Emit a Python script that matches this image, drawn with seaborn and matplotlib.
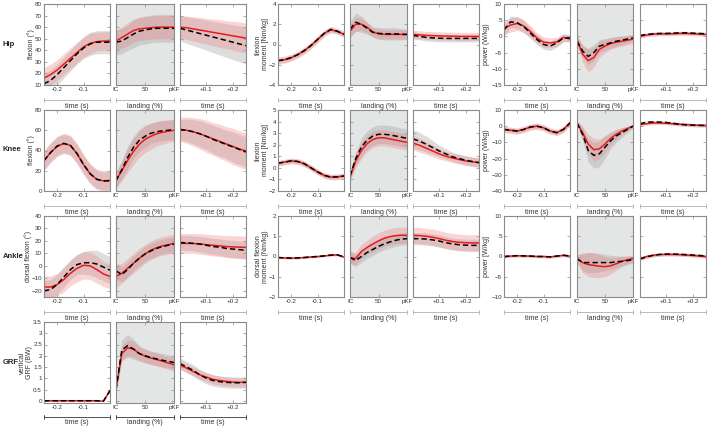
import numpy as np
import pandas as pd
import seaborn as sns
import matplotlib.pyplot as plt

# x grids of the three phases
t_pre = [-0.25, -0.225, -0.2, -0.175, -0.15, -0.125, -0.1, -0.075, -0.05, -0.025, 0.0]
pct_land = [0, 10, 20, 30, 40, 50, 60, 70, 80, 90, 100]
t_post = [0.0, 0.025, 0.05, 0.075, 0.1, 0.125, 0.15, 0.175, 0.2, 0.225, 0.25]

# each series: 11 pre values, 11 landing values, 11 post values
hip_flex_red = [16, 19, 23, 28, 33, 38, 43, 46, 47.5, 48, 48,
                48, 51, 54, 57, 58.5, 59, 59.5, 60, 60, 60, 60,
                60, 59.5, 58.5, 57.5, 56.5, 55.5, 54.5, 53.5, 52.5, 51.5, 50.5]
hip_flex_red_sd = [9, 9, 9, 9, 9, 9, 9, 9, 8, 8, 8,
                   9, 9, 10, 10, 10, 10, 10, 10, 10, 10, 10,
                   10, 10, 10.5, 11, 11, 11.5, 12, 12, 12.5, 13, 13]
hip_flex_blk = [11, 14, 19, 25, 31, 37, 42, 45.5, 47, 47, 47,
                47, 48, 51, 54, 56.5, 57.5, 58.5, 59, 59, 59, 59,
                59, 57.5, 56, 54.5, 53, 51.5, 50, 48.5, 47, 45.5, 44]
hip_flex_blk_sd = [9, 9, 9, 9, 9, 9, 9, 10, 10, 10, 10,
                   11, 11, 11, 12, 12, 12, 12, 12, 12, 12, 12,
                   11, 11.5, 12, 12.5, 13, 13.5, 14, 14.5, 15, 15.5, 16]

hip_mom_red = [-1.6, -1.5, -1.3, -1.0, -0.6, -0.1, 0.5, 1.1, 1.45, 1.3, 1.0,
               1.3, 2.0, 2.0, 1.7, 1.25, 1.05, 1.0, 1.0, 1.0, 1.0, 1.0,
               1.0, 0.95, 0.9, 0.88, 0.85, 0.83, 0.82, 0.8, 0.8, 0.8, 0.8]
hip_mom_red_sd = [0.35, 0.35, 0.35, 0.35, 0.35, 0.35, 0.35, 0.3, 0.3, 0.3, 0.3,
                  0.6, 0.7, 0.6, 0.5, 0.45, 0.45, 0.45, 0.45, 0.45, 0.45, 0.45,
                  0.4, 0.4, 0.4, 0.4, 0.4, 0.4, 0.4, 0.4, 0.4, 0.4, 0.4]
hip_mom_blk = [-1.6, -1.5, -1.3, -1.0, -0.6, -0.1, 0.5, 1.1, 1.5, 1.3, 1.0,
               1.5, 2.2, 2.0, 1.6, 1.2, 1.1, 1.05, 1.05, 1.05, 1.0, 1.0,
               0.9, 0.8, 0.7, 0.65, 0.62, 0.6, 0.6, 0.6, 0.6, 0.6, 0.6]
hip_mom_blk_sd = [0.25, 0.25, 0.25, 0.25, 0.25, 0.25, 0.25, 0.25, 0.25, 0.25, 0.25,
                  0.8, 0.9, 0.8, 0.6, 0.5, 0.6, 0.6, 0.6, 0.6, 0.55, 0.5,
                  0.35, 0.35, 0.35, 0.35, 0.35, 0.35, 0.35, 0.35, 0.35, 0.35, 0.35]

hip_pow_red = [2.5, 3.5, 4.0, 3.2, 1.5, -0.5, -1.8, -2.0, -1.7, -0.3, -0.8,
               -1.0, -5.5, -7.5, -6.5, -4.0, -3.0, -2.2, -1.8, -1.5, -1.2, -0.8,
               0.0, 0.4, 0.7, 0.8, 0.8, 0.8, 0.9, 0.9, 0.8, 0.7, 0.6]
hip_pow_red_sd = [2.0, 2.2, 2.2, 2.0, 1.8, 1.6, 1.6, 1.5, 1.4, 1.2, 1.0,
                  1.5, 2.5, 3.5, 3.0, 2.5, 2.0, 1.8, 1.6, 1.5, 1.4, 1.3,
                  0.6, 0.6, 0.6, 0.6, 0.6, 0.6, 0.6, 0.6, 0.6, 0.6, 0.6]
hip_pow_blk = [2.0, 4.5, 4.2, 3.0, 1.0, -1.0, -2.5, -3.0, -2.0, -0.5, -0.5,
               -1.5, -4.5, -6.2, -5.0, -3.0, -2.5, -2.0, -1.5, -1.2, -0.8, -0.5,
               0.3, 0.6, 0.8, 0.9, 0.9, 1.0, 1.1, 1.1, 1.0, 0.9, 0.8]
hip_pow_blk_sd = [1.8, 1.8, 1.8, 1.8, 1.6, 1.5, 1.5, 1.4, 1.3, 1.2, 1.0,
                  1.5, 2.0, 2.5, 2.5, 2.0, 1.8, 1.6, 1.5, 1.4, 1.2, 1.0,
                  0.5, 0.5, 0.5, 0.5, 0.5, 0.5, 0.5, 0.5, 0.5, 0.5, 0.5]

knee_flex_red = [30, 38, 44, 47, 45, 37, 26, 17, 11.5, 10, 10.5,
                 11, 20, 30, 39, 46, 51, 54, 56.5, 58, 59, 60,
                 61, 60, 58.5, 56.5, 54, 51.5, 49, 46.5, 44, 41.5, 39.5]
knee_flex_red_sd = [10, 10, 10, 10, 10, 10, 10, 10, 10, 10, 10,
                    8, 10, 12, 13, 13, 13, 13, 12, 12, 11, 11,
                    12, 13, 14, 15, 16, 16, 17, 17, 18, 18, 18]
knee_flex_blk = [30, 38, 44.5, 47, 45, 37, 26, 17, 11.5, 10, 10,
                 10, 21, 33, 43, 50, 54, 57, 58.5, 59.5, 60, 61,
                 60.5, 60, 58.5, 56.5, 54, 51, 48.5, 46, 43.5, 41, 38.5]
knee_flex_blk_sd = [9, 9, 9, 9, 9, 9, 9, 9, 9, 9, 9,
                    7, 9, 11, 11, 11, 11, 10, 10, 10, 10, 10,
                    10, 11, 12, 13, 13, 14, 14, 14, 15, 15, 15]

knee_mom_red = [0.4, 0.5, 0.6, 0.55, 0.35, 0.0, -0.35, -0.65, -0.8, -0.78, -0.7,
                -0.8, 0.6, 1.5, 2.1, 2.45, 2.6, 2.6, 2.5, 2.4, 2.3, 2.2,
                2.15, 1.95, 1.7, 1.45, 1.2, 1.0, 0.85, 0.72, 0.6, 0.52, 0.45]
knee_mom_red_sd = [0.25, 0.25, 0.25, 0.25, 0.25, 0.25, 0.25, 0.25, 0.25, 0.25, 0.25,
                   0.3, 0.6, 0.7, 0.7, 0.7, 0.7, 0.7, 0.7, 0.7, 0.7, 0.7,
                   0.6, 0.6, 0.55, 0.5, 0.45, 0.4, 0.4, 0.4, 0.4, 0.4, 0.4]
knee_mom_blk = [0.4, 0.5, 0.6, 0.55, 0.35, 0.0, -0.35, -0.65, -0.8, -0.78, -0.7,
                -0.7, 0.8, 1.8, 2.4, 2.75, 2.9, 2.9, 2.85, 2.75, 2.65, 2.55,
                2.5, 2.3, 2.05, 1.75, 1.45, 1.2, 0.95, 0.8, 0.65, 0.55, 0.45]
knee_mom_blk_sd = [0.2, 0.2, 0.2, 0.2, 0.2, 0.2, 0.2, 0.2, 0.2, 0.2, 0.2,
                   0.3, 0.6, 0.8, 0.8, 0.8, 0.8, 0.8, 0.8, 0.8, 0.8, 0.8,
                   0.8, 0.75, 0.7, 0.6, 0.5, 0.45, 0.4, 0.4, 0.4, 0.4, 0.4]

knee_pow_red = [-2.0, -2.5, -3.0, -2.0, -0.5, 0.0, -1.0, -3.0, -4.0, -2.0, 2.0,
                2.0, -4.0, -11, -14.5, -14, -11, -7.5, -5, -3, -1.5, 0.0,
                1.0, 1.5, 2.0, 2.0, 1.8, 1.5, 1.2, 1.0, 0.8, 0.6, 0.5]
knee_pow_red_sd = [2, 2, 2, 2, 2, 2, 2, 2, 2, 2, 2,
                   1.5, 4, 6, 7, 6, 5, 4, 3, 2, 1.5, 1,
                   1, 1, 1, 1, 1, 1, 1, 1, 1, 1, 1]
knee_pow_blk = [-2.0, -2.5, -3.0, -2.0, -0.5, 0.0, -1.0, -3.0, -4.0, -2.0, 2.0,
                2.0, -5, -15, -18, -17, -13, -9, -6, -4, -2, 0.0,
                1.5, 2.5, 2.6, 2.5, 2.3, 1.8, 1.2, 0.8, 0.6, 0.5, 0.4]
knee_pow_blk_sd = [1.5, 1.5, 1.5, 1.5, 1.5, 1.5, 1.5, 1.5, 1.5, 1.5, 1.5,
                   1.5, 4, 7, 8, 8, 7, 5, 4, 3, 2, 1,
                   1, 1, 1, 1, 1, 1, 1, 1, 1, 1, 1]

ankle_flex_red = [-17, -17, -15, -11, -6, -2, 0.5, 0, -3, -6.5, -8.5,
                  -8.5, -6, -2, 2, 6, 9.5, 12.5, 14.5, 16, 17, 18,
                  18, 18, 18, 17.5, 17, 16.5, 16, 15.5, 15.2, 15, 14.8]
ankle_flex_red_sd = [9, 9, 9, 10, 10, 11, 11, 11, 11, 10, 10,
                     9, 8, 8, 8, 8, 7.5, 7.5, 7.5, 7.5, 7.5, 7.5,
                     8, 8, 8, 8.2, 8.4, 8.5, 8.6, 8.8, 9, 9, 9]
ankle_flex_blk = [-20, -19, -15, -9, -3, 1, 2.5, 2.5, 1.5, -1, -3.5,
                  -4, -7, -3, 2, 6, 9.5, 12, 14, 15.5, 16.5, 17.5,
                  18.5, 18.5, 18, 17.5, 16.5, 15.5, 15, 14, 13.5, 13, 12.5]
ankle_flex_blk_sd = [8, 8, 8, 8, 8, 8, 9, 10, 11, 11, 11,
                     7, 6, 6, 6, 6, 6, 6, 6, 6, 6, 6,
                     6, 6, 6, 6.2, 6.4, 6.5, 6.6, 6.8, 7, 7, 7]

ankle_mom_red = [-0.05, -0.07, -0.08, -0.07, -0.05, -0.02, 0.0, 0.03, 0.07, 0.08, -0.02,
                 -0.05, -0.1, 0.25, 0.45, 0.62, 0.77, 0.9, 0.98, 1.03, 1.05, 1.05,
                 1.05, 1.03, 1.0, 0.95, 0.88, 0.8, 0.74, 0.7, 0.68, 0.67, 0.67]
ankle_mom_red_sd = [0.05, 0.05, 0.05, 0.05, 0.05, 0.05, 0.05, 0.05, 0.05, 0.05, 0.05,
                    0.3, 0.3, 0.35, 0.35, 0.4, 0.4, 0.4, 0.4, 0.4, 0.4, 0.4,
                    0.4, 0.4, 0.4, 0.4, 0.4, 0.4, 0.4, 0.4, 0.4, 0.4, 0.4]
ankle_mom_blk = [-0.05, -0.07, -0.08, -0.07, -0.05, -0.02, 0.0, 0.03, 0.07, 0.08, -0.02,
                 -0.05, -0.2, 0.0, 0.2, 0.35, 0.5, 0.62, 0.72, 0.8, 0.86, 0.88,
                 0.88, 0.88, 0.86, 0.82, 0.76, 0.68, 0.62, 0.58, 0.56, 0.55, 0.55]
ankle_mom_blk_sd = [0.04, 0.04, 0.04, 0.04, 0.04, 0.04, 0.04, 0.04, 0.04, 0.04, 0.04,
                    0.3, 0.3, 0.3, 0.3, 0.3, 0.3, 0.3, 0.3, 0.3, 0.3, 0.3,
                    0.3, 0.3, 0.3, 0.3, 0.3, 0.3, 0.3, 0.3, 0.3, 0.3, 0.3]

ankle_pow_red = [0.0, 0.1, 0.2, 0.15, 0.1, 0.0, 0.0, -0.1, 0.1, 0.3, 0.1,
                 -0.5, -1.5, -2.0, -2.2, -2.4, -2.5, -2.3, -1.8, -1.2, -0.8, -0.5,
                 -0.5, 0.0, 0.3, 0.5, 0.5, 0.5, 0.45, 0.35, 0.25, 0.1, 0.0]
ankle_pow_red_sd = [0.3, 0.3, 0.3, 0.3, 0.3, 0.3, 0.3, 0.3, 0.3, 0.3, 0.3,
                    1.0, 2.5, 3.0, 3.0, 2.8, 2.5, 2.0, 1.6, 1.3, 1.0, 0.8,
                    0.4, 0.4, 0.4, 0.4, 0.4, 0.4, 0.4, 0.4, 0.4, 0.4, 0.4]
ankle_pow_blk = [0.0, 0.1, 0.2, 0.15, 0.1, 0.0, 0.0, -0.1, 0.1, 0.3, 0.1,
                 -0.5, -1.5, -1.5, -1.5, -1.5, -1.5, -1.5, -1.3, -1.2, -1.0, -0.8,
                 -0.6, -0.1, 0.3, 0.5, 0.6, 0.6, 0.55, 0.45, 0.35, 0.25, 0.1]
ankle_pow_blk_sd = [0.3, 0.3, 0.3, 0.3, 0.3, 0.3, 0.3, 0.3, 0.3, 0.3, 0.3,
                    1.0, 2.0, 2.5, 2.5, 2.3, 2.0, 1.8, 1.5, 1.2, 1.0, 0.8,
                    0.4, 0.4, 0.4, 0.4, 0.4, 0.4, 0.4, 0.4, 0.4, 0.4, 0.4]

grf_red = [0, 0, 0, 0, 0, 0, 0, 0, 0, -0.02, 0.45,
           0.5, 2.1, 2.35, 2.3, 2.1, 1.98, 1.9, 1.83, 1.76, 1.68, 1.6,
           1.6, 1.45, 1.3, 1.15, 1.05, 0.95, 0.9, 0.86, 0.83, 0.82, 0.82]
grf_red_sd = [0.01, 0.01, 0.01, 0.01, 0.01, 0.01, 0.01, 0.01, 0.01, 0.01, 0.02,
              0.1, 0.35, 0.35, 0.35, 0.3, 0.3, 0.28, 0.28, 0.28, 0.28, 0.28,
              0.2, 0.2, 0.2, 0.2, 0.2, 0.2, 0.2, 0.2, 0.2, 0.2, 0.2]
grf_blk = [0, 0, 0, 0, 0, 0, 0, 0, 0, -0.02, 0.45,
           0.5, 2.25, 2.45, 2.3, 2.1, 2.0, 1.92, 1.86, 1.8, 1.75, 1.7,
           1.65, 1.5, 1.35, 1.15, 1.0, 0.9, 0.85, 0.82, 0.8, 0.8, 0.82]
grf_blk_sd = [0.01, 0.01, 0.01, 0.01, 0.01, 0.01, 0.01, 0.01, 0.01, 0.01, 0.02,
              0.1, 0.45, 0.5, 0.45, 0.35, 0.3, 0.3, 0.3, 0.3, 0.3, 0.3,
              0.25, 0.25, 0.25, 0.25, 0.25, 0.25, 0.25, 0.25, 0.25, 0.25, 0.25]

row_names = ["Hip", "Knee", "Ankle", "GRF"]

# (series name, red, red sd, black, black sd, ylim, yticks, ylabel)
panels = [
    [("hip_flex", hip_flex_red, hip_flex_red_sd, hip_flex_blk, hip_flex_blk_sd,
      (10, 80), np.arange(10, 81, 10), "flexion (°)"),
     ("hip_mom", hip_mom_red, hip_mom_red_sd, hip_mom_blk, hip_mom_blk_sd,
      (-4, 4), [-4, -2, 0, 2, 4], "flexion\nmoment [Nm/kg]"),
     ("hip_pow", hip_pow_red, hip_pow_red_sd, hip_pow_blk, hip_pow_blk_sd,
      (-15, 10), [-15, -10, -5, 0, 5, 10], "power (W/kg)")],
    [("knee_flex", knee_flex_red, knee_flex_red_sd, knee_flex_blk, knee_flex_blk_sd,
      (0, 80), [0, 20, 40, 60, 80], "flexion (°)"),
     ("knee_mom", knee_mom_red, knee_mom_red_sd, knee_mom_blk, knee_mom_blk_sd,
      (-2, 5), [-2, -1, 0, 1, 2, 3, 4, 5], "flexion\nmoment [Nm/kg]"),
     ("knee_pow", knee_pow_red, knee_pow_red_sd, knee_pow_blk, knee_pow_blk_sd,
      (-40, 10), [-40, -30, -20, -10, 0, 10], "power (W/kg)")],
    [("ankle_flex", ankle_flex_red, ankle_flex_red_sd, ankle_flex_blk, ankle_flex_blk_sd,
      (-25, 40), [-20, -10, 0, 10, 20, 30, 40], "dorsal flexion (°)"),
     ("ankle_mom", ankle_mom_red, ankle_mom_red_sd, ankle_mom_blk, ankle_mom_blk_sd,
      (-2, 2), [-2, -1, 0, 1, 2], "dorsal flexion\nmoment (Nm/kg)"),
     ("ankle_pow", ankle_pow_red, ankle_pow_red_sd, ankle_pow_blk, ankle_pow_blk_sd,
      (-10, 10), [-10, -5, 0, 5, 10], "power [W/kg]")],
    [("grf", grf_red, grf_red_sd, grf_blk, grf_blk_sd,
      (-0.1, 3.5), [0, 0.5, 1, 1.5, 2, 2.5, 3, 3.5], "vertical\nGRF (BW)")],
]

# long table
rows = []
phases = [("pre", t_pre), ("land", pct_land), ("post", t_post)]
for prow in panels:
    for name, red, red_sd, blk, blk_sd, *_ in prow:
        for k, (ph, xs) in enumerate(phases):
            for i, x in enumerate(xs):
                j = k * 11 + i
                rows.append((name, ph, "red", x, red[j], red_sd[j]))
                rows.append((name, ph, "blk", x, blk[j], blk_sd[j]))
df = pd.DataFrame(rows, columns=["measure", "phase", "group", "x", "mean", "sd"])

sns.set_theme(style="white")
plt.rcParams["font.family"] = ["Liberation Sans", "DejaVu Sans"]

W, H = 711, 429
fig = plt.figure(figsize=(W / 100, H / 100), dpi=100)

group_x = [[(44, 110), (116, 174), (180, 246)],
           [(278, 344), (350, 407), (413, 479)],
           [(504, 570), (577, 633), (640, 706)]]
label_off = [-13, -16, -17]
label_off_special = {"grf": -18, "ankle_flex": -15.5}
row_top = [4, 110, 216, 322]
ph_h = 81
row_label_y = [44, 150, 257, 362]

red_c = "#e8191e"
frame_c = "#8a8a8a"
txt_c = "#333333"
phase_xlim = {"pre": (-0.25, 0), "land": (0, 100), "post": (0, 0.25)}
phase_xt = {"pre": ([-0.2, -0.1], ["-0.2", "-0.1"]),
            "land": ([0, 50, 100], ["IC", "50", "pKF"]),
            "post": ([0.1, 0.2], ["+0.1", "+0.2"])}
phase_lbl = {"pre": "time (s)", "land": "landing (%)", "post": "time (s)"}

for r, prow in enumerate(panels):
    fig.text(3 / W, 1 - row_label_y[r] / H, row_names[r], fontsize=5.5,
             fontweight="bold", ha="left", va="center")
    for c, (name, red, red_sd, blk, blk_sd, ylim, yt, ylab) in enumerate(prow):
        for k, (ph, xs) in enumerate(phases):
            x0, x1 = group_x[c][k]
            ax = fig.add_axes([x0 / W, 1 - (row_top[r] + ph_h) / H, (x1 - x0) / W, ph_h / H])
            ax.set_facecolor("#e4e6e6" if ph == "land" else "white")
            sub = df[(df.measure == name) & (df.phase == ph)]
            for g, col, a in [("blk", "#9a9a9a", 0.33), ("red", "#f08080", 0.33)]:
                s = sub[sub.group == g]
                ax.fill_between(s.x, s["mean"] - s.sd, s["mean"] + s.sd,
                                color=col, alpha=a, lw=0)
            sns.lineplot(data=sub[sub.group == "red"], x="x", y="mean", ax=ax,
                         color=red_c, lw=1.1, errorbar=None)
            sns.lineplot(data=sub[sub.group == "blk"], x="x", y="mean", ax=ax,
                         color="black", lw=1.1, errorbar=None,
                         linestyle=(0, (3.5, 2)))
            ax.set_xlim(*phase_xlim[ph])
            ax.set_ylim(*ylim)
            ax.set_xticks(phase_xt[ph][0])
            ax.set_xticklabels(phase_xt[ph][1])
            ax.set_yticks(yt)
            ax.set_xlabel("")
            ax.set_ylabel("")
            ax.tick_params(direction="in", length=2, width=0.5, colors=frame_c,
                           labelcolor=txt_c, labelsize=4.5, pad=1.5,
                           top=True, right=True, bottom=True, left=True)
            if ph == "pre":
                ax.set_ylabel(ylab, fontsize=5, color=txt_c, linespacing=1.0)
                ax.yaxis.label.set_verticalalignment("center")
                off = label_off_special.get(name, label_off[c])
                ax.yaxis.set_label_coords(off / (x1 - x0), 0.5)
                if name == "grf":
                    ax.set_yticklabels(["0", "0.5", "1", "1.5", "2", "2.5", "3", "3.5"])
            else:
                ax.set_yticklabels([])
            for sp in ax.spines.values():
                sp.set_color(frame_c)
                sp.set_linewidth(0.8)
            # bracket under the panel
            bc = "#333333" if name == "grf" else "#b0b0b0"
            by = -15 / ph_h if name != "grf" else -14 / ph_h
            ax.plot([0, 1], [by, by], transform=ax.transAxes, clip_on=False,
                    color=bc, lw=0.6)
            for xe in (0, 1):
                ax.plot([xe, xe], [by - 2 / ph_h, by + 2 / ph_h], transform=ax.transAxes,
                        clip_on=False, color=bc, lw=0.6)
            ax.text(0.5, by - 6 / ph_h, phase_lbl[ph], transform=ax.transAxes,
                    ha="center", va="center", fontsize=5, color=txt_c)

fig.savefig("out.png", dpi=100)
